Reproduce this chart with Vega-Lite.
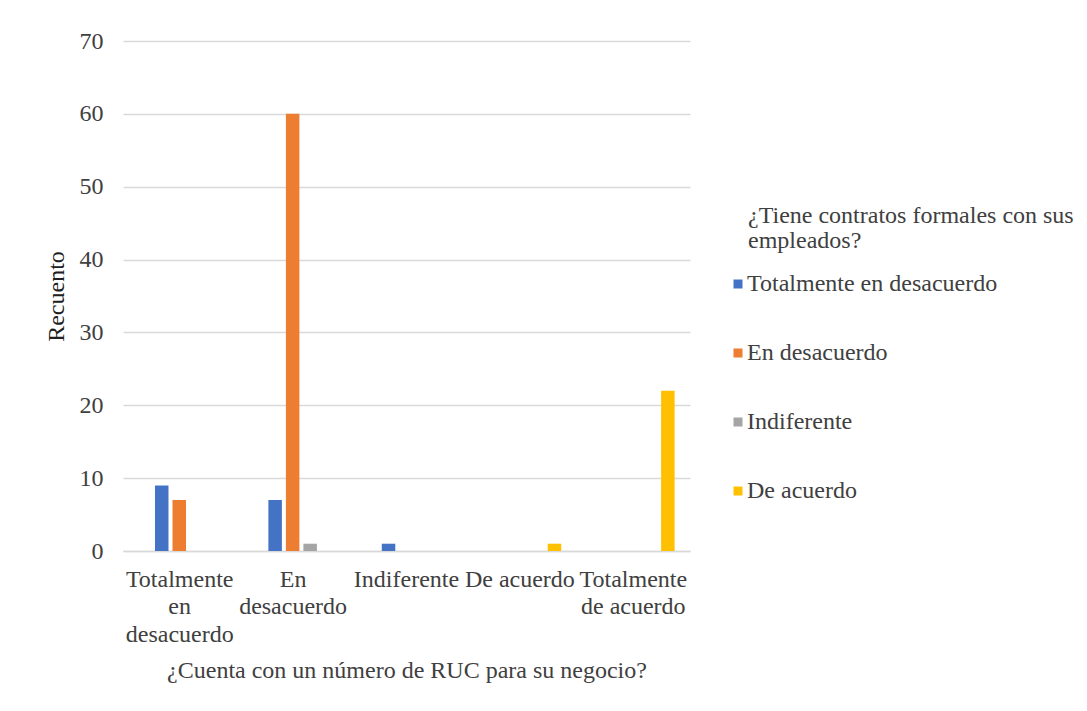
{
  "$schema": "https://vega.github.io/schema/vega-lite/v6.json",
  "width": 567,
  "height": 510,
  "autosize": {"type": "none"},
  "padding": {"left": 123, "top": 41, "right": 397, "bottom": 160},
  "background": "white",
  "config": {
    "font": "Liberation Serif",
    "view": {"stroke": null}
  },
  "data": {
    "values": [
      {"ruc": "Totalmente en desacuerdo", "contratos": "Totalmente en desacuerdo", "n": 9},
      {"ruc": "Totalmente en desacuerdo", "contratos": "En desacuerdo", "n": 7},
      {"ruc": "En desacuerdo", "contratos": "Totalmente en desacuerdo", "n": 7},
      {"ruc": "En desacuerdo", "contratos": "En desacuerdo", "n": 60},
      {"ruc": "En desacuerdo", "contratos": "Indiferente", "n": 1},
      {"ruc": "Indiferente", "contratos": "Totalmente en desacuerdo", "n": 1},
      {"ruc": "De acuerdo", "contratos": "De acuerdo", "n": 1},
      {"ruc": "Totalmente de acuerdo", "contratos": "De acuerdo", "n": 22}
    ]
  },
  "mark": {"type": "bar"},
  "encoding": {
    "x": {
      "field": "ruc",
      "type": "nominal",
      "sort": ["Totalmente en desacuerdo", "En desacuerdo", "Indiferente", "De acuerdo", "Totalmente de acuerdo"],
      "scale": {"domain": ["Totalmente en desacuerdo", "En desacuerdo", "Indiferente", "De acuerdo", "Totalmente de acuerdo"], "paddingInner": 0.109, "paddingOuter": 0.0545, "round": false},
      "title": "¿Cuenta con un número de RUC para su negocio?",
      "axis": {
        "labelAngle": 0,
        "labelFont": "Liberation Serif",
        "labelFontSize": 24,
        "labelColor": "#404040",
        "labelLineHeight": 27.5,
        "labelPadding": 16,
        "labelBaseline": "top",
        "labelLimit": 300,
        "labelOverlap": false,
        "labelExpr": "datum.value == 'Totalmente en desacuerdo' ? ['Totalmente','en','desacuerdo'] : datum.value == 'En desacuerdo' ? ['En','desacuerdo'] : datum.value == 'Totalmente de acuerdo' ? ['Totalmente','de acuerdo'] : datum.value",
        "ticks": false,
        "domainColor": "#d9d9d9",
        "domainWidth": 1.5,
        "titleFont": "Liberation Serif",
        "titleFontSize": 24,
        "titleFontWeight": "normal",
        "titleColor": "#404040",
        "titlePadding": 12
      }
    },
    "xOffset": {
      "field": "contratos",
      "type": "nominal",
      "scale": {"domain": ["Totalmente en desacuerdo", "En desacuerdo", "Indiferente", "De acuerdo"], "paddingInner": 0.229, "paddingOuter": 1, "align": 0.737, "round": false}
    },
    "y": {
      "field": "n",
      "type": "quantitative",
      "scale": {"domain": [0, 70]},
      "title": "Recuento",
      "axis": {
        "values": [0, 10, 20, 30, 40, 50, 60, 70],
        "domain": false,
        "ticks": false,
        "gridColor": "#d9d9d9",
        "gridWidth": 1.5,
        "labelFont": "Liberation Serif",
        "labelFontSize": 24,
        "labelColor": "#404040",
        "labelPadding": 20,
        "titleFont": "Liberation Serif",
        "titleFontSize": 24,
        "titleFontWeight": "normal",
        "titleColor": "#202020",
        "titlePadding": 11
      }
    },
    "color": {
      "field": "contratos",
      "type": "nominal",
      "scale": {
        "domain": ["Totalmente en desacuerdo", "En desacuerdo", "Indiferente", "De acuerdo"],
        "range": ["#4472C4", "#ED7D31", "#A5A5A5", "#FFC000"]
      },
      "legend": {
        "orient": "none",
        "legendX": 625,
        "legendY": 163,
        "title": ["¿Tiene contratos formales con sus", "empleados?"],
        "titleFont": "Liberation Serif",
        "titleFontSize": 24,
        "titleFontWeight": "normal",
        "titleColor": "#404040",
        "titleLineHeight": 25,
        "titleLimit": 450,
        "titlePadding": 19,
        "labelFont": "Liberation Serif",
        "labelFontSize": 24,
        "labelColor": "#404040",
        "labelLimit": 400,
        "labelOffset": -3,
        "symbolOffset": -22,
        "symbolType": "square",
        "symbolSize": 81,
        "symbolStrokeWidth": 0,
        "rowPadding": 45
      }
    }
  }
}
